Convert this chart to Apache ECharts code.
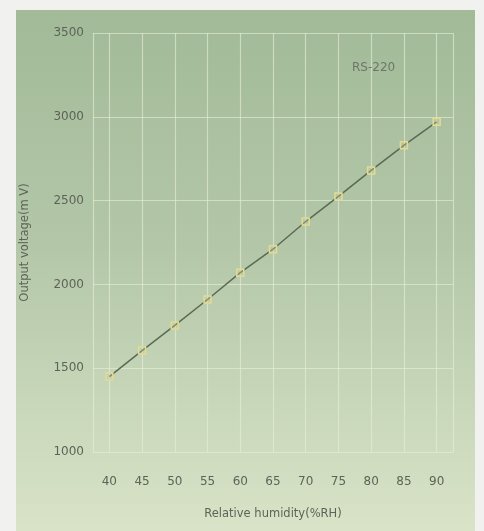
<!DOCTYPE html>
<html>
<head>
<meta charset="utf-8">
<script src="https://cdn.jsdelivr.net/npm/echarts@6/dist/echarts.min.js"></script>
<style>
html,body{margin:0;padding:0;background:#f1f2ef;}
#chart{width:484px;height:531px;}
</style>
</head>
<body>
<div id="chart"></div>
<script>
const humidity = [40, 45, 50, 55, 60, 65, 70, 75, 80, 85, 90];
const voltage = [1450, 1605, 1755, 1910, 2070, 2210, 2375, 2525, 2680, 2830, 2970];
const xEdges = [37.5, 92.5];
const seriesName = 'RS-220';
const xTitle = 'Relative humidity(%RH)';
const yTitle = 'Output voltage(m V)';

const chart = echarts.init(document.getElementById('chart'));
const pts = humidity.map((h, i) => [h, voltage[i]]);
const gridColor = 'rgba(232,240,218,0.6)';
const textColor = '#5c6458';

chart.setOption({
  backgroundColor: '#f1f2ef',
  animation: false,
  graphic: [{
    type: 'rect', z: -10, silent: true,
    shape: { x: 16, y: 10, width: 459, height: 521 },
    style: {
      fill: new echarts.graphic.LinearGradient(0, 0, 0, 1, [
        { offset: 0, color: '#a2ba98' },
        { offset: 0.45, color: '#b3c7a8' },
        { offset: 1, color: '#d9e3c7' }
      ])
    }
  }],
  title: {
    text: seriesName, left: 347, top: 57,
    textStyle: { fontFamily: 'DejaVu Sans', fontSize: 12, fontWeight: 'normal', color: '#6c7768' }
  },
  grid: { left: 93, top: 33, right: 31, bottom: 79, containLabel: false },
  xAxis: {
    type: 'value', min: xEdges[0], max: xEdges[1],
    name: xTitle, nameLocation: 'middle', nameGap: 56,
    nameTextStyle: { fontFamily: 'DejaVu Sans', fontSize: 11.5, color: textColor },
    axisLine: { show: false },
    axisTick: { show: false, customValues: [xEdges[0]].concat(humidity, [xEdges[1]]) },
    axisLabel: { customValues: humidity, margin: 24, fontFamily: 'DejaVu Sans', fontSize: 12, color: textColor },
    splitLine: { show: true, lineStyle: { color: gridColor, width: 1.2 } }
  },
  yAxis: {
    type: 'value', min: 1000, max: 3500, interval: 500,
    name: yTitle, nameLocation: 'middle', nameGap: 62, nameRotate: 90,
    nameTextStyle: { fontFamily: 'DejaVu Sans', fontSize: 11.5, color: textColor, padding: [0, 0, 0, 0] },
    axisLine: { show: false },
    axisTick: { show: false },
    axisLabel: { margin: 9, fontFamily: 'DejaVu Sans', fontSize: 12, color: textColor, formatter: v => String(v) },
    splitLine: { show: true, lineStyle: { color: gridColor, width: 1.2 } }
  },
  series: [{
    name: seriesName, type: 'line', data: pts,
    symbol: 'rect', symbolSize: 7,
    lineStyle: { color: '#5b6a54', width: 1.5 },
    itemStyle: { color: 'rgba(200,205,160,0.35)', borderColor: '#e3da94', borderWidth: 1.5 }
  }]
});
</script>
</body>
</html>
